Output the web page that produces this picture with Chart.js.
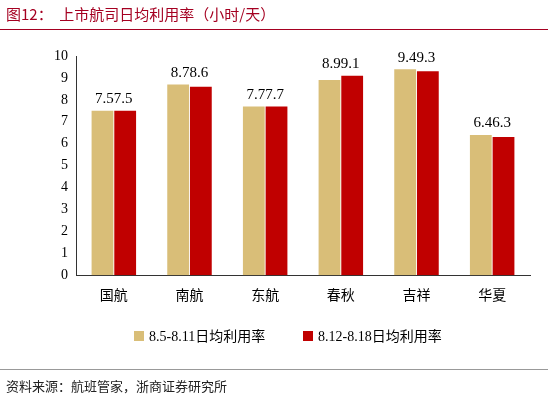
<!DOCTYPE html><html><head><meta charset="utf-8">
<script src="https://cdn.jsdelivr.net/npm/chart.js@4"></script>
<style>html,body{margin:0;padding:0;background:#fff}#c{display:block}</style></head><body>
<div style="width:548px;height:402px"><canvas id="c" width="548" height="402"></canvas></div>
<script>
const categories=['国航','南航','东航','春秋','吉祥','华夏'];
const series1=[7.5,8.7,7.7,8.9,9.4,6.4];
const series2=[7.5,8.6,7.7,9.1,9.3,6.3];
const seriesNames=['8.5-8.11日均利用率','8.12-8.18日均利用率'];
const colors=['#D9BE78','#C00000'];
const yTicks=[0,1,2,3,4,5,6,7,8,9,10];
const serif='"Liberation Serif","Noto Sans CJK SC",serif';
const cjk='"Noto Sans CJK SC",sans-serif';
const deco={id:'deco',afterDraw(ch){const c=ch.ctx;c.save();
c.fillStyle='#A50021';c.font='15px '+cjk;c.textBaseline='middle';c.fillText('图12：  上市航司日均利用率（小时/天）',6,14);
c.strokeStyle='#A50021';c.lineWidth=1;c.beginPath();c.moveTo(0,29.5);c.lineTo(548,29.5);c.stroke();
c.strokeStyle='#999';c.beginPath();c.moveTo(0,369.5);c.lineTo(548,369.5);c.stroke();
c.fillStyle='#222';c.font='13px '+cjk;c.fillText('资料来源：航班管家，浙商证券研究所',6,386);
c.font='14px '+serif;
[[134,0],[303,1]].forEach(([x,i])=>{c.fillStyle=colors[i];c.fillRect(x,331,10,10);c.fillStyle='#000';c.fillText(seriesNames[i],x+15,337);});
c.font='15px '+serif;c.fillStyle='#000';c.textBaseline='bottom';
const m0=ch.getDatasetMeta(0),m1=ch.getDatasetMeta(1);
categories.forEach((_,i)=>{const a=m0.data[i],b=m1.data[i];const y=Math.min(a.y,b.y)-4;
const t1=String(series1[i]),t2=String(series2[i]);const w1=c.measureText(t1).width,w2=c.measureText(t2).width;
const cx=(a.x+b.x)/2;c.textAlign='left';c.fillText(t1,cx-(w1+w2)/2,y);c.fillText(t2,cx-(w1+w2)/2+w1,y);});
c.restore();}};
new Chart(document.getElementById('c'),{type:'bar',
data:{labels:categories,datasets:[{label:seriesNames[0],data:series1,backgroundColor:colors[0]},{label:seriesNames[1],data:series2,backgroundColor:colors[1]}]},
options:{responsive:false,animation:false,layout:{padding:{left:50,right:18,top:56,bottom:96}},
plugins:{legend:{display:false},tooltip:{enabled:false}},
datasets:{bar:{categoryPercentage:0.6,barPercentage:0.96}},
scales:{x:{grid:{display:false,drawTicks:true},border:{color:'#333'},ticks:{color:'#000',font:{family:cjk,size:14}}},
y:{min:0,max:10,afterBuildTicks(ax){ax.ticks=yTicks.map(v=>({value:v}));},grid:{display:false,drawTicks:true,tickLength:4},border:{color:'#333'},ticks:{color:'#000',font:{family:serif,size:14},padding:4}}}},
plugins:[deco]});
</script></body></html>
